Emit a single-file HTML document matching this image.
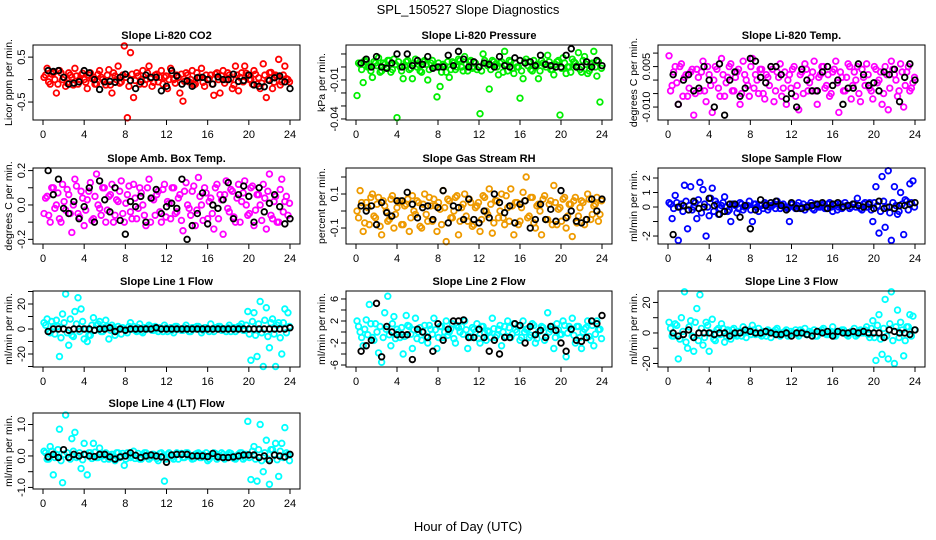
<!DOCTYPE html>
<html><head><meta charset="utf-8"><style>
html,body{margin:0;padding:0;background:#fff}
svg{display:block;font-family:"Liberation Sans",sans-serif}
</style></head><body>
<svg id="chart" width="936" height="540" viewBox="0 0 936 540">
<text x="468" y="14" text-anchor="middle" font-size="13">SPL_150527  Slope Diagnostics</text>
<text x="468" y="531" text-anchor="middle" font-size="13">Hour of Day (UTC)</text>
</svg>
<script>
const xTicks=[0,4,8,12,16,20,24];
const blackHours=[0.5,1,1.5,2,2.5,3,3.5,4,4.5,5,5.5,6,6.5,7,7.5,8,8.5,9,9.5,10,10.5,11,11.5,12,12.5,13,13.5,14,14.5,15,15.5,16,16.5,17,17.5,18,18.5,19,19.5,20,20.5,21,21.5,22,22.5,23,23.5,24];
const colorHours=[0.1,0.4,0.7,1.0,1.3,1.6,1.9,2.2,2.5,2.8,3.1,3.4,3.7,4.0,4.3,4.6,4.9,5.2,5.5,5.8,6.1,6.4,6.7,7.0,7.3,7.6,7.9,8.2,8.5,8.8,9.1,9.4,9.7,10.0,10.3,10.6,10.9,11.2,11.5,11.8,12.1,12.4,12.7,13.0,13.3,13.6,13.9,14.2,14.5,14.8,15.1,15.4,15.7,16.0,16.3,16.6,16.9,17.2,17.5,17.8,18.1,18.4,18.7,19.0,19.3,19.6,19.9,20.2,20.5,20.8,21.1,21.4,21.7,22.0,22.3,22.6,22.9,23.2,23.5,23.8];
const colorHours2=[0.25,0.55,0.85,1.15,1.45,1.75,2.05,2.35,2.65,2.95,3.25,3.55,3.85,4.15,4.45,4.75,5.05,5.35,5.65,5.95,6.25,6.55,6.85,7.15,7.45,7.75,8.05,8.35,8.65,8.95,9.25,9.55,9.85,10.15,10.45,10.75,11.05,11.35,11.65,11.95,12.25,12.55,12.85,13.15,13.45,13.75,14.05,14.35,14.65,14.95,15.25,15.55,15.85,16.15,16.45,16.75,17.05,17.35,17.65,17.95,18.25,18.55,18.85,19.15,19.45,19.75,20.05,20.35,20.65,20.95,21.25,21.55,21.85,22.15,22.45,22.75,23.05,23.35,23.65,23.95];

const titles=["Slope Li-820 CO2","Slope Li-820 Pressure","Slope Li-820 Temp.","Slope Amb. Box Temp.","Slope Gas Stream RH","Slope Sample Flow","Slope Line 1 Flow","Slope Line 2 Flow","Slope Line 3 Flow","Slope Line 4 (LT) Flow"];
const yTitles=["Licor ppm per min.","kPa per min.","degrees C per min.","degrees C per min.","percent per min.","ml/min per min.","ml/min per min.","ml/min per min.","ml/min per min.","ml/min per min."];
const yTicks=[[-0.5,0,0.5],[-0.04,-0.03,-0.02,-0.01,0,0.01],[-0.01,-0.005,0,0.005,0.01],[-0.2,-0.1,0,0.1,0.2],[-0.1,0,0.1,0.2],[-2,-1,0,1,2],[-30,-20,-10,0,10,20,30],[-6,-4,-2,0,2,4,6],[-20,-10,0,10,20],[-1,-0.5,0,0.5,1]];
const yTickLabels=[["-0.5","","0.5"],["-0.04","","","-0.01","",""],["-0.010","","","0.005",""],["-0.2","","0.0","","0.2"],["-0.1","","0.1",""],["-2","","0","1","2"],["","-20","","0","","20",""],["-6","","-2","","2","","6"],["-20","","0","","20"],["-1.0","","0.0","","1.0"]];
const yDomains=[[-0.9,0.77],[-0.0408,0.0169],[-0.0148,0.013],[-0.227,0.215],[-0.194,0.253],[-2.55,2.69],[-30.4,30.4],[-6.36,7.45],[-22.3,27.5],[-1.05,1.365]];
const seriesColors=["#ff0000","#00ee00","#ff00ff","#ff00ff","#ee9a00","#0000ff","#00ffff","#00ffff","#00ffff","#00ffff"];

const colorVals=[
[0.05,0.25,-0.1,0.15,-0.3,0.2,0.0,-0.15,0.15,0.05,0.25,-0.1,0.1,0.0,-0.2,0.15,0.05,-0.1,0.2,0.0,-0.12,0.22,-0.3,0.08,0.3,-0.05,0.75,-0.85,0.6,-0.4,0.15,-0.1,0.2,0.0,0.3,-0.15,0.1,-0.05,0.2,0.05,-0.2,0.25,0.0,0.1,-0.3,-0.48,0.15,-0.05,0.2,-0.1,0.05,0.25,-0.15,0.0,0.1,-0.35,0.15,-0.3,0.2,0.0,0.1,-0.2,0.3,-0.25,0.15,0.3,0.1,0.0,0.2,-0.1,-0.2,0.35,-0.4,0.15,-0.2,0.1,0.45,-0.05,0.3,0.0],
[-0.022,0.002,-0.012,0.004,0.0,-0.008,0.003,0.007,-0.003,0.002,0.005,-0.004,0.006,-0.039,0.0,-0.009,0.004,-0.002,-0.009,0.006,0.002,-0.004,0.005,-0.01,0.003,0.0,-0.023,-0.015,0.002,-0.004,-0.008,0.004,-0.002,0.006,0.0,0.008,-0.003,0.005,0.0,-0.002,-0.036,0.01,0.003,-0.017,0.005,0.002,-0.006,0.004,0.012,-0.003,0.004,-0.005,0.0,-0.024,-0.009,0.006,0.004,-0.003,0.0,-0.009,0.005,0.002,0.009,-0.002,-0.006,0.004,-0.037,0.007,-0.005,0.0,0.006,0.003,0.011,-0.004,0.008,-0.005,0.002,0.012,-0.007,-0.027],
[0.009,-0.002,0.005,-0.009,0.006,0.001,-0.006,0.003,-0.013,0.004,-0.004,0.007,-0.008,0.002,-0.012,0.005,-0.003,0.008,-0.006,0.001,0.006,-0.004,0.003,-0.009,0.007,0.0,-0.006,0.008,0.002,-0.005,0.004,-0.007,0.001,0.005,-0.008,0.003,0.006,-0.003,-0.009,0.002,0.004,-0.006,-0.011,0.003,0.006,-0.004,0.001,0.007,-0.009,0.002,0.005,-0.002,-0.006,0.003,0.007,-0.012,0.001,-0.004,0.006,-0.007,0.003,0.005,-0.008,0.001,0.006,-0.003,-0.007,0.004,0.0,-0.009,0.005,-0.011,0.007,0.002,-0.006,0.006,-0.01,0.003,-0.004,-0.001],
[-0.05,0.05,-0.1,0.1,0.0,-0.08,0.12,-0.03,0.06,-0.16,0.15,-0.05,0.08,-0.12,0.03,0.13,-0.08,0.18,-0.02,0.1,-0.1,0.05,0.12,-0.06,0.02,0.14,-0.1,0.06,-0.04,0.12,-0.08,0.1,0.0,-0.12,0.15,0.04,-0.06,0.08,-0.1,0.12,0.02,-0.08,0.1,-0.04,0.06,-0.15,0.13,-0.02,0.08,-0.12,0.16,0.0,0.1,-0.08,0.04,-0.14,0.12,0.06,-0.17,0.14,-0.04,0.08,-0.1,0.12,0.02,0.14,-0.06,0.1,-0.12,0.06,0.0,0.12,-0.14,0.18,-0.08,0.05,-0.1,0.15,0.02,-0.06],
[0.0,0.12,-0.12,0.05,-0.08,0.1,-0.04,0.08,-0.14,0.03,-0.06,0.07,-0.1,0.02,0.06,-0.08,0.04,-0.12,0.09,-0.02,0.05,-0.1,0.1,-0.06,0.03,0.07,-0.12,0.01,0.12,-0.18,0.06,-0.04,0.08,-0.14,0.02,0.1,-0.06,0.05,-0.08,0.03,-0.12,0.09,0.0,0.13,-0.13,0.06,-0.04,0.1,-0.08,0.02,0.13,-0.14,0.05,-0.06,0.11,0.2,-0.03,0.08,-0.1,0.04,-0.14,0.09,-0.05,0.06,0.15,-0.08,0.02,0.07,-0.1,0.04,-0.15,0.08,-0.03,0.06,-0.08,0.1,-0.05,0.03,0.08,-0.02],
[0.3,-0.8,0.8,-2.3,0.2,1.5,-1.5,1.4,0.0,-0.8,1.7,1.2,-2.0,-0.6,1.3,0.4,-0.5,0.1,0.7,-0.3,-1.0,0.2,-0.4,0.3,-0.2,0.1,0.4,-1.0,0.2,-0.3,0.1,0.3,-0.2,0.1,0.2,0.4,-0.1,0.2,0.0,-1.0,0.2,-0.1,0.3,0.0,-0.2,0.1,0.3,-0.2,0.1,0.0,0.2,-0.1,0.3,-0.3,0.2,0.0,-0.1,0.3,0.1,0.0,0.2,0.6,-0.1,0.2,0.0,0.3,-1.0,1.4,-1.8,2.1,-1.4,2.5,-2.3,1.4,-0.5,1.0,-1.9,0.4,1.6,1.8],
[5,8,-3,2,7,-22,12,28,-13,-5,14,25,16,-8,-10,-5,9,3,6,-2,7,-8,3,-5,2,-4,0,-3,5,2,-2,4,-3,1,3,-1,2,-2,0,3,-2,1,-3,2,0,-1,3,-2,1,0,2,-3,1,0,4,-2,1,2,0,-2,3,1,-2,2,4,-1,14,-25,13,-22,22,-30,17,-15,8,-30,5,-20,16,13],
[2.0,0.0,-2.5,2.2,5.0,-1.0,1.5,-3.8,-5.5,3.5,6.5,-2.5,2.8,0.5,-1.0,-4.0,3.0,1.0,-3.0,2.5,0.0,-1.5,1.2,-2.0,0.5,2.5,-3.0,1.0,-1.0,2.0,0.0,1.5,-2.0,0.8,1.0,2.0,-3.0,-1.0,0.5,1.5,-2.0,1.0,-1.5,0.0,2.5,-1.0,0.5,-2.5,1.0,2.0,-1.0,1.5,0.0,-1.5,2.0,0.5,-1.0,1.5,-2.0,0.0,1.0,-1.5,3.5,0.5,-3.0,1.5,-0.5,2.0,-4.5,1.0,2.5,-2.0,1.0,-3.0,0.5,2.0,-1.5,-2.5,2.0,0.5],
[7,-2,6,-17,10,27,-10,8,-12,16,25,-8,7,-12,9,-5,3,6,-6,2,-4,3,-2,1,4,-3,2,5,-1,3,-2,0,2,-3,1,3,-2,0,2,-1,0,2,-2,1,3,-1,0,2,-2,1,3,-1,0,4,-2,1,2,0,-2,1,3,-1,2,0,4,-3,8,-18,12,-14,22,-17,27,-20,15,7,-15,4,12,11],
[0.15,-0.1,0.3,-0.6,0.05,0.85,-0.85,1.3,-0.05,0.55,0.75,0.0,-0.4,0.4,-0.6,0.1,0.4,-0.05,0.25,0.0,0.1,-0.1,0.05,-0.15,0.1,0.0,-0.3,0.1,-0.05,0.15,0.0,-0.1,0.05,0.1,-0.1,0.05,0.0,-0.15,0.1,-0.8,0.05,0.0,-0.1,0.1,0.05,-0.05,0.1,0.0,-0.1,0.05,0.1,-0.05,0.0,-0.15,0.05,0.1,-0.1,0.0,0.05,-0.05,0.1,0.0,-0.1,0.05,0.1,-0.05,1.1,-0.75,0.3,-0.8,1.0,-0.5,0.5,-0.9,0.2,0.4,-0.65,0.4,0.9,0.05]
];
const colorVals2=[
[0.1,-0.05,0.12,0.0,-0.1,0.15,0.05,-0.08,0.1,-0.12,0.08,0.0,0.14,-0.06,0.1,0.02,-0.1,0.12,0.05,-0.05,0.1,-0.12,0.15,0.0,-0.08,0.1,0.05,-0.15,0.12,-0.02,0.08,0.0,-0.1,0.15,0.02,-0.06,0.12,0.05,-0.1,0.08,0.0,0.14,-0.08,0.05,0.12,-0.04,0.1,0.0,-0.12,0.15,0.05,-0.06,0.1,0.02,-0.1,0.12,0.0,0.08,-0.08,0.15,0.02,-0.12,0.1,0.05,-0.05,0.14,0.0,-0.1,0.12,0.04,-0.08,0.1,0.0,0.16,-0.06,0.08,-0.12,0.1,0.02,-0.05],
[0.003,-0.002,0.005,0.0,-0.003,0.004,0.001,-0.004,0.003,0.0,0.005,-0.002,0.002,0.004,-0.003,0.001,0.005,-0.001,0.003,0.0,-0.003,0.004,0.002,-0.002,0.005,0.0,0.003,-0.004,0.001,0.004,-0.002,0.003,0.0,0.005,-0.003,0.002,0.004,-0.001,0.003,0.0,-0.003,0.005,0.001,-0.002,0.004,0.0,0.003,-0.004,0.002,0.005,-0.001,0.003,0.0,-0.003,0.004,0.001,-0.002,0.005,0.002,-0.003,0.003,0.0,0.004,-0.002,0.002,0.005,-0.001,0.003,0.0,-0.004,0.004,0.001,-0.002,0.005,0.002,-0.003,0.003,0.0,0.004,-0.001],
[-0.004,0.003,-0.001,0.005,-0.006,0.002,-0.003,0.004,-0.005,0.001,0.003,-0.004,0.005,-0.002,0.0,0.004,-0.006,0.002,-0.001,0.005,-0.004,0.001,0.004,-0.005,0.002,-0.002,0.005,-0.003,0.0,0.004,-0.005,0.002,-0.002,0.004,-0.004,0.001,-0.006,0.003,0.0,-0.003,0.005,-0.002,0.002,-0.005,0.004,-0.001,0.003,-0.004,0.001,0.005,-0.003,0.002,-0.005,0.004,-0.001,0.003,-0.004,0.001,0.005,-0.002,0.0,-0.005,0.004,-0.002,0.002,-0.004,0.005,-0.001,0.003,-0.005,0.002,-0.003,0.004,0.0,-0.004,0.003,-0.002,0.005,-0.003,0.001],
[0.04,-0.06,0.1,-0.02,0.07,-0.1,0.02,0.09,-0.05,0.0,0.11,-0.07,0.04,-0.03,0.08,-0.09,0.05,0.0,-0.06,0.1,-0.03,0.06,-0.1,0.03,0.08,-0.05,0.01,0.11,-0.08,0.04,-0.02,0.07,-0.06,0.1,-0.1,0.03,0.06,-0.04,0.09,-0.07,0.01,0.1,-0.05,0.04,-0.09,0.08,0.0,-0.06,0.11,-0.03,0.05,-0.09,0.07,0.02,-0.05,0.1,-0.08,0.03,0.06,-0.02,0.09,-0.07,0.04,-0.1,0.07,0.0,-0.05,0.11,-0.03,0.06,-0.09,0.04,0.08,-0.06,0.02,-0.1,0.09,-0.04,0.05,0.01],
[-0.04,0.05,-0.07,0.02,0.08,-0.03,0.04,-0.09,0.06,0.0,-0.05,0.09,-0.02,0.05,-0.08,0.03,0.07,-0.04,0.0,0.06,-0.09,0.04,-0.02,0.08,-0.06,0.03,0.05,-0.08,0.02,0.07,-0.04,0.0,0.09,-0.06,0.04,-0.03,0.07,-0.09,0.02,0.05,-0.05,0.08,-0.02,0.04,-0.07,0.06,0.0,-0.04,0.09,-0.06,0.03,0.05,-0.08,0.02,0.06,-0.04,0.08,-0.07,0.03,0.0,0.07,-0.05,0.04,-0.08,0.05,0.01,-0.06,0.08,-0.03,0.04,0.06,-0.07,0.02,0.05,-0.05,0.07,-0.02,0.04,-0.06,0.06],
[0.2,-0.1,0.3,0.0,-0.3,0.4,0.1,-0.2,0.3,0.5,-0.4,0.2,0.0,0.6,-0.3,0.2,-0.1,0.3,0.0,-0.2,0.2,0.1,-0.1,0.2,0.0,0.1,-0.2,0.2,0.0,0.1,-0.1,0.2,0.0,0.1,-0.1,0.2,0.1,0.0,-0.1,0.2,0.0,0.1,-0.1,0.2,0.0,0.1,-0.1,0.2,0.0,0.1,-0.1,0.2,0.0,0.1,-0.2,0.2,0.0,0.1,-0.1,0.2,0.0,0.1,-0.2,0.3,0.0,-0.2,0.3,0.1,-0.3,0.4,0.0,-0.4,0.3,0.1,-0.3,0.2,0.5,-0.2,0.3,0.0],
[3,-2,6,-4,2,-7,5,-3,8,-6,4,-2,6,0,-5,3,-1,4,-2,1,2,-1,1,-2,0,1,-1,2,0,-1,1,-2,1,0,2,-1,0,1,-2,1,0,-1,2,0,-1,1,0,-2,1,2,0,-1,1,-2,0,1,2,-1,0,1,-2,1,0,2,-1,3,-4,6,-5,4,-3,7,-6,5,-4,3,-7,5,-3,2],
[1.0,-1.0,0.5,-0.5,1.5,-1.5,0.0,1.0,-1.0,0.5,-0.5,1.5,-1.2,0.0,0.8,-0.8,1.2,-0.4,0.4,-1.2,0.8,0.0,-0.8,1.2,-0.4,0.4,-1.0,1.0,0.0,-0.6,0.6,-1.2,1.2,0.0,-0.4,0.4,-0.8,0.8,0.0,-1.2,1.0,-0.2,0.2,-1.0,0.6,-0.6,1.2,0.0,-0.8,0.8,-0.4,0.4,1.0,-1.0,0.0,0.6,-0.6,1.2,-1.2,0.2,0.8,-0.8,0.0,1.0,-1.0,0.4,-0.4,1.2,-0.2,0.6,-0.6,1.0,-1.0,0.0,0.8,-0.8,1.2,-0.4,0.4,-1.2],
[3,-2,5,-4,1,-6,4,-2,7,-5,3,-3,5,0,-4,2,-1,3,-2,1,2,-1,1,-2,0,1,-1,2,0,-1,1,-2,1,0,2,-1,0,1,-2,1,0,-1,2,0,-1,1,0,-2,1,2,0,-1,1,-2,0,1,2,-1,0,1,-2,1,0,2,-1,3,-3,5,-4,3,-2,6,-5,4,-3,2,-5,4,-2,2],
[0.1,-0.1,0.15,-0.05,0.2,-0.15,0.05,0.1,-0.1,0.15,-0.05,0.1,-0.12,0.05,0.1,-0.08,0.12,-0.05,0.08,-0.1,0.05,0.0,-0.08,0.1,-0.05,0.08,-0.1,0.05,0.0,-0.08,0.08,-0.1,0.1,0.0,-0.05,0.05,-0.08,0.08,0.0,-0.1,0.1,-0.05,0.05,-0.1,0.08,-0.05,0.1,0.0,-0.08,0.08,-0.05,0.05,0.1,-0.1,0.0,0.08,-0.05,0.1,-0.1,0.05,0.08,-0.08,0.0,0.1,-0.1,0.05,-0.05,0.15,-0.1,0.2,-0.15,0.1,-0.1,0.2,0.05,-0.12,0.15,-0.05,0.1,-0.15]
];
const blackVals=[
[0.2,0.18,0.2,0.05,-0.1,-0.08,-0.05,0.2,0.15,0.0,-0.22,-0.05,-0.04,-0.06,0.05,0.12,-0.02,-0.2,-0.05,0.1,0.05,0.05,-0.25,-0.15,0.2,0.08,-0.1,-0.03,-0.15,0.04,0.05,0.0,-0.1,0.06,0.0,0.0,0.12,-0.04,-0.02,0.1,-0.12,-0.15,-0.16,-0.02,0.04,0.08,-0.05,-0.2],
[0.003,0.006,0.0,0.008,0.0,-0.001,0.003,0.01,0.0,0.01,0.001,0.005,0.002,0.008,-0.001,0.0,0.0,0.009,0.001,0.012,0.006,0.0,0.004,0.0,0.003,0.002,0.0,0.008,0.001,0.0,0.007,0.005,0.003,0.004,0.001,0.009,0.002,0.001,0.0,0.0,0.009,0.014,0.0,0.0,0.004,0.0,0.005,0.001],
[0.002,-0.009,0.0,0.002,-0.004,-0.003,0.005,0.0,-0.01,0.006,-0.013,0.0,0.003,-0.006,-0.003,0.008,0.007,0.001,-0.001,0.005,0.005,0.002,-0.007,-0.005,-0.01,0.004,0.0,-0.004,-0.004,0.003,0.005,-0.002,0.0,-0.009,-0.003,-0.003,0.006,0.002,-0.002,-0.001,-0.004,0.003,0.002,0.004,-0.008,0.001,0.006,0.0],
[0.2,0.06,0.15,-0.02,-0.05,0.02,-0.08,-0.01,0.1,-0.1,0.14,0.03,-0.04,0.1,-0.09,-0.17,0.02,-0.01,0.05,-0.1,0.04,0.09,-0.05,-0.01,0.01,-0.02,0.15,-0.2,-0.12,-0.05,0.07,-0.11,0.0,-0.02,0.03,0.13,-0.08,0.06,0.11,0.05,-0.1,0.1,-0.04,0.01,0.06,-0.01,-0.11,-0.08],
[0.03,0.0,0.03,-0.08,0.05,-0.01,-0.03,0.06,0.06,0.11,0.04,-0.04,0.02,0.03,-0.05,0.02,0.12,-0.07,0.03,0.02,-0.05,0.07,-0.05,-0.07,0.0,-0.04,0.1,0.05,-0.01,0.03,-0.07,0.04,0.06,-0.1,-0.05,0.04,-0.05,0.01,-0.06,0.12,-0.04,0.0,-0.06,-0.07,-0.05,0.07,0.0,0.07],
[-1.9,0.0,0.1,-0.2,0.4,-0.1,0.0,0.6,0.1,-0.5,-0.3,0.2,0.2,-0.7,0.1,-1.5,-0.2,0.5,0.1,0.3,0.4,0.1,-0.2,0.3,-0.1,-0.1,0.0,0.1,0.2,0.3,-0.1,0.2,0.3,0.0,0.1,0.2,0.1,0.0,0.2,-0.1,0.4,-0.1,0.0,-0.1,0.1,0.1,0.2,0.3],
[-2,0,0,0,-1,0,0,0,0,-1,0,0,1,-2,0,-1,0,0,0,0,0,1,0,0,0,0,0,0,0,0,0,0,0,0,0,0,0,0,0,0,0,0,0,0,0,0,0,1],
[-3.5,-2.5,-1.5,5.2,-4.5,1.0,0.0,-0.5,-0.5,-0.5,-5.0,0.5,0.0,-1.0,-3.5,1.5,-1.5,0.5,2.0,2.0,2.2,-1.0,-1.0,0.5,-1.0,-3.5,-1.5,-4.0,-1.0,-1.0,1.5,1.2,-2.0,1.0,-0.5,0.3,-1.0,1.0,0.3,-2.0,-3.5,0.5,-1.5,-1.7,-1.0,2.0,1.5,3.0],
[0,-2,-1,2,-3,0,0,0,-1,0,0,-2,0,0,2,1,0,0,1,0,-1,-1,0,-2,0,0,-1,-2,1,0,1,-2,1,0,0,1,0,1,0,0,0,-3,2,1,0,0,-1,2],
[-0.03,0.05,-0.05,0.2,-0.05,0.05,0.0,0.05,0.0,-0.02,0.05,0.05,-0.03,-0.1,-0.03,0.0,0.1,0.02,-0.05,0.0,0.03,0.0,-0.03,-0.2,0.03,0.05,0.05,0.05,0.0,0.0,0.0,-0.02,0.08,-0.03,-0.05,-0.05,-0.03,0.0,0.03,0.03,0.03,-0.05,0.0,-0.15,0.03,0.0,-0.03,0.05]
];

// layout (geometry only)
const colL=[33,346,658], colR=[300,612,925];
const rowT=[45,168,291,413], rowB=[120,244,367,489];
const NS="http://www.w3.org/2000/svg";
const svg=document.getElementById('chart');
function mk(tag,attrs,parent){const e=document.createElementNS(NS,tag);for(const k in attrs)e.setAttribute(k,attrs[k]);(parent||svg).appendChild(e);return e;}

titles.forEach((title,p)=>{
  const c=p%3, r=Math.floor(p/3);
  const L=colL[c],R=colR[c],T=rowT[r],B=rowB[r];
  const g=mk('g',{});
  
  
  const xs=h=>L+10+(h/24)*(R-L-20);
  const [lo,hi]=yDomains[p];
  const ys=v=>B-(v-lo)/(hi-lo)*(B-T);
  const t=mk('text',{x:(L+R)/2,y:T-6,'text-anchor':'middle','font-size':11,'font-weight':'bold'},g);
  t.textContent=title;
  
  
  const yt=mk('text',{x:0,y:0,'text-anchor':'middle','font-size':10.5,transform:`translate(${L-21},${(T+B)/2}) rotate(-90)`},g);
  yt.textContent=yTitles[p];
  
  
  xTicks.forEach(h=>{
    mk('line',{x1:xs(h),x2:xs(h),y1:B,y2:B+5,stroke:'#000'},g);
    const tl=mk('text',{x:xs(h),y:B+18,'text-anchor':'middle','font-size':11},g);
    tl.textContent=h;
    
    
  });
  yTicks[p].forEach((v,i)=>{
    const y=ys(v);
    mk('line',{x1:L-5,x2:L,y1:y,y2:y,stroke:'#000'},g);
    if(yTickLabels[p][i]){
      const tl=mk('text',{x:0,y:0,'text-anchor':'middle','font-size':11,transform:`translate(${L-8},${y}) rotate(-90)`},g);
      tl.textContent=yTickLabels[p][i];
      
      
    }
  });
  const col=seriesColors[p];
  colorVals2[p].forEach((v,i)=>{
    if(i>=colorHours2.length)return;
    const ci=mk('circle',{cx:xs(colorHours2[i]),cy:ys(v),r:2.8,fill:'none',stroke:col,'stroke-width':1.8},g);
    
    
  });
  colorVals[p].forEach((v,i)=>{
    if(i>=colorHours.length)return;
    const ci=mk('circle',{cx:xs(colorHours[i]),cy:ys(v),r:2.8,fill:'none',stroke:col,'stroke-width':1.8},g);
    
    
  });
  blackVals[p].forEach((v,i)=>{
    if(i>=blackHours.length)return;
    const ci=mk('circle',{cx:xs(blackHours[i]),cy:ys(v),r:2.8,fill:'none',stroke:'#000','stroke-width':1.8},g);
    
    
  });
  const box=mk('rect',{x:L,y:T,width:R-L,height:B-T,fill:'none',stroke:'#000','stroke-width':1},g);
  
  
});
</script>
</body></html>
